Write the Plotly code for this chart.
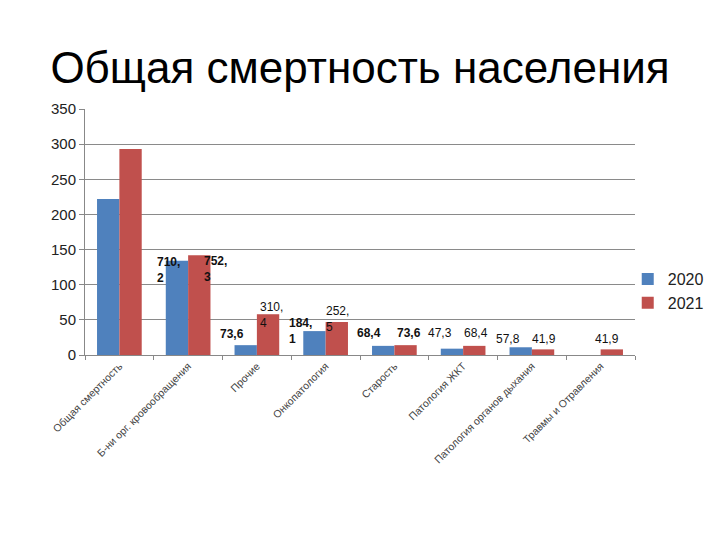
import plotly.graph_objects as go

categories = ["Общая смертность", "Б-ни орг. кровообращения", "Прочие", "Онкопатология",
              "Старость", "Патология ЖКТ", "Патология органов дыхания", "Травмы и Отравления"]
values_2020 = [222, 134, 14, 34, 13, 9, 11, 0]
values_2021 = [293, 142, 58, 47, 14, 13, 8, 8]
labels_2020 = ["", "710,<br>2", "73,6", "184,<br>1", "68,4", "47,3", "57,8", ""]
labels_2021 = ["", "752,<br>3", "310,<br>4", "252,<br>5", "73,6", "68,4", "41,9", "41,9"]
bold_2020 = [False, True, True, True, True, False, False, False]
bold_2021 = [False, True, False, False, True, False, False, False]

# label placement styling (pixel shifts relative to bar top-centre)
dx_2020 = [0, -8, -14, -14, -14, -12, -13, 0]
dy_2020 = [0, -9, 11, 0, 13, 16, 8, 0]
dx_2021 = [0, 16, 3, 1, 3, 2, 1, -5]
dy_2021 = [0, -14, -1, 3, 12, 13, 10, 10]

BLUE = "#4F81BD"
RED = "#C0504D"
HALF = 11.25

fig = go.Figure()
fig.add_bar(x=categories, y=values_2020, name="2020", marker_color=BLUE, marker_line_width=0)
fig.add_bar(x=categories, y=values_2021, name="2021", marker_color=RED, marker_line_width=0)

ann = []
for series, vals, labs, dxs, dys, bolds, side in [
    ("2020", values_2020, labels_2020, dx_2020, dy_2020, bold_2020, -1),
    ("2021", values_2021, labels_2021, dx_2021, dy_2021, bold_2021, 1),
]:
    for c, v, t, dx, dy, b in zip(categories, vals, labs, dxs, dys, bolds):
        if not t:
            continue
        ann.append(dict(x=c, y=v, xref="x", yref="y", text=(f"<b>{t}</b>" if b else t),
                        showarrow=False, xanchor="center", yanchor="middle", align="left",
                        xshift=side * HALF + dx, yshift=dy,
                        font=dict(family="Liberation Sans", size=12, color="#111")))

fig.update_layout(
    width=720, height=540,
    paper_bgcolor="white", plot_bgcolor="white",
    margin=dict(l=85, r=84, t=109, b=185),
    barmode="group", bargap=0.35, bargroupgap=0,
    title=dict(text="Общая смертность населения", x=0.5, xanchor="center",
               y=1 - 68 / 540, yanchor="middle",
               font=dict(family="Liberation Sans", size=44, color="black")),
    legend=dict(x=0.985, y=0.26, xanchor="left", yanchor="middle",
                font=dict(family="Liberation Sans", size=16, color="#222"),
                itemwidth=30, tracegroupgap=0, bgcolor="rgba(0,0,0,0)"),
    annotations=ann,
    showlegend=True,
)
fig.update_xaxes(type="category", tickangle=-45, tickson="boundaries", ticks="outside",
                 ticklen=4, tickcolor="#888", showline=True, linecolor="#888", linewidth=1,
                 tickfont=dict(family="Liberation Sans", size=10.5, color="#444"))
fig.update_yaxes(range=[0, 350], dtick=50, showgrid=True, gridcolor="#8a8a8a", gridwidth=1,
                 ticks="outside", ticklen=5, tickcolor="#888", showline=True, linecolor="#888",
                 zeroline=False,
                 tickfont=dict(family="Liberation Sans", size=15, color="#222"))

fig.write_html("out.html")
